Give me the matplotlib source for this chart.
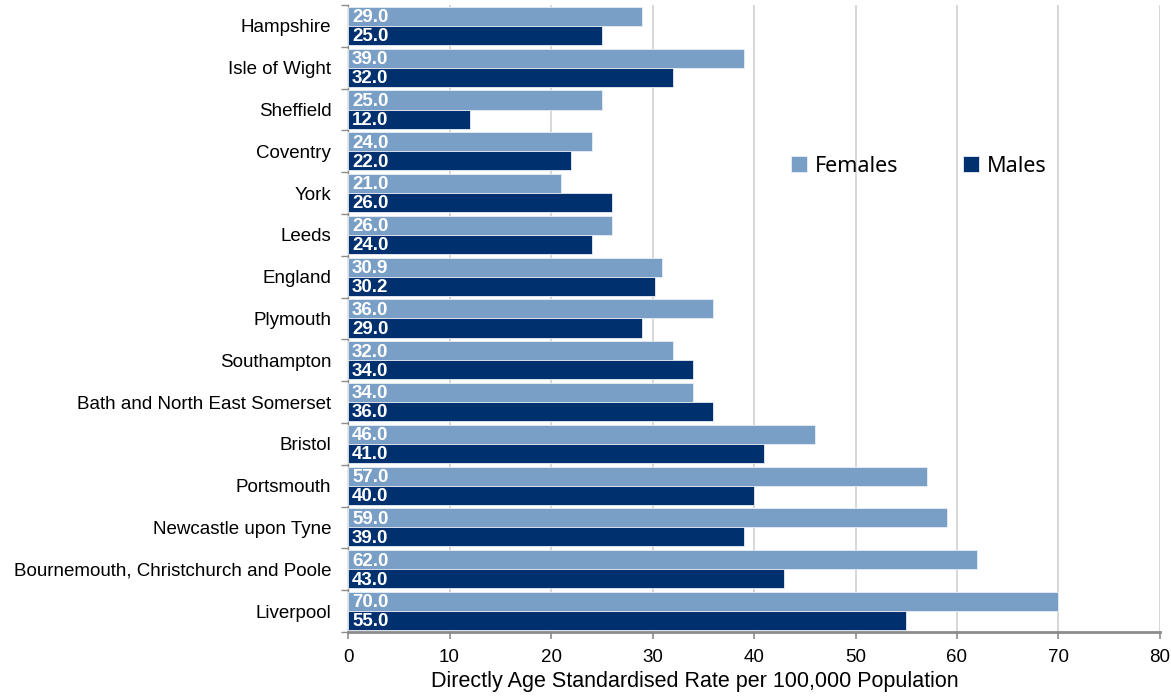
import matplotlib
matplotlib.use("Agg")
import matplotlib.pyplot as plt
import numpy as np

areas = [
    "Hampshire", "Isle of Wight", "Sheffield", "Coventry", "York", "Leeds",
    "England", "Plymouth", "Southampton", "Bath and North East Somerset",
    "Bristol", "Portsmouth", "Newcastle upon Tyne",
    "Bournemouth, Christchurch and Poole", "Liverpool",
]
females = [29.0, 39.0, 25.0, 24.0, 21.0, 26.0, 30.9, 36.0, 32.0, 34.0,
           46.0, 57.0, 59.0, 62.0, 70.0]
males = [25.0, 32.0, 12.0, 22.0, 26.0, 24.0, 30.2, 29.0, 34.0, 36.0,
         41.0, 40.0, 39.0, 43.0, 55.0]
x_ticks = [0, 10, 20, 30, 40, 50, 60, 70, 80]
x_label = "Directly Age Standardised Rate per 100,000 Population"

FEMALE_COLOR = "#7A9FC6"
MALE_COLOR = "#00306E"
GRID_COLOR = "#D4D4D4"
AXIS_COLOR = "#8C8C8C"

plt.rcParams["font.family"] = ["Liberation Sans", "DejaVu Sans"]

fig = plt.figure(figsize=(11.71, 6.97), dpi=100)
ax = fig.add_axes([0.2972, 0.0933, 0.6934, 0.8995])

pos = np.arange(len(areas))
bh = 0.455
off = bh / 2

ax.barh(pos - off, females, height=bh, color=FEMALE_COLOR,
        edgecolor="#E8EEF5", linewidth=0.6, label="Females", zorder=3)
ax.barh(pos + off, males, height=bh, color=MALE_COLOR,
        edgecolor="#E8EEF5", linewidth=0.6, label="Males", zorder=3)

for y, v in zip(pos - off, females):
    ax.text(0.4, y + 0.03, f"{v:.1f}", color="white", fontweight="bold",
            fontsize=13.5, va="center", ha="left", zorder=4)
for y, v in zip(pos + off, males):
    ax.text(0.4, y + 0.03, f"{v:.1f}", color="white", fontweight="bold",
            fontsize=13.5, va="center", ha="left", zorder=4)

ax.set_xlim(0, 80)
ax.set_ylim(len(areas) - 0.5, -0.5)
ax.set_xticks(x_ticks)
ax.set_xticklabels([str(t) for t in x_ticks], fontsize=13.5)
ax.set_xlabel(x_label, fontsize=15.5)
ax.xaxis.set_label_coords(0.427, -0.063)

ax.set_yticks(pos)
ax.set_yticklabels(areas, fontsize=13.5)
ax.set_yticks(np.arange(-0.5, len(areas) + 0.5, 1.0), minor=True)
ax.tick_params(axis="y", which="major", length=0, pad=12)
ax.tick_params(axis="y", which="minor", length=5, color=AXIS_COLOR, width=1)
ax.tick_params(axis="x", which="major", length=5, color=AXIS_COLOR, width=1.2,
               pad=7)

ax.grid(axis="x", color=GRID_COLOR, linewidth=1.3, zorder=0)
ax.set_axisbelow(True)

for side in ("top", "right"):
    ax.spines[side].set_visible(False)
ax.spines["left"].set_color(AXIS_COLOR)
ax.spines["left"].set_linewidth(1.0)
ax.spines["bottom"].set_color(AXIS_COLOR)
ax.spines["bottom"].set_linewidth(2.0)

ax.legend(loc="center", bbox_to_anchor=(0.703, 0.743), ncol=2, frameon=False,
          handlelength=0.75, handleheight=0.75, handletextpad=0.35,
          columnspacing=3.0,
          prop={"family": ["Noto Sans", "DejaVu Sans"], "size": 15.5})

fig.savefig("out.png", dpi=100)
